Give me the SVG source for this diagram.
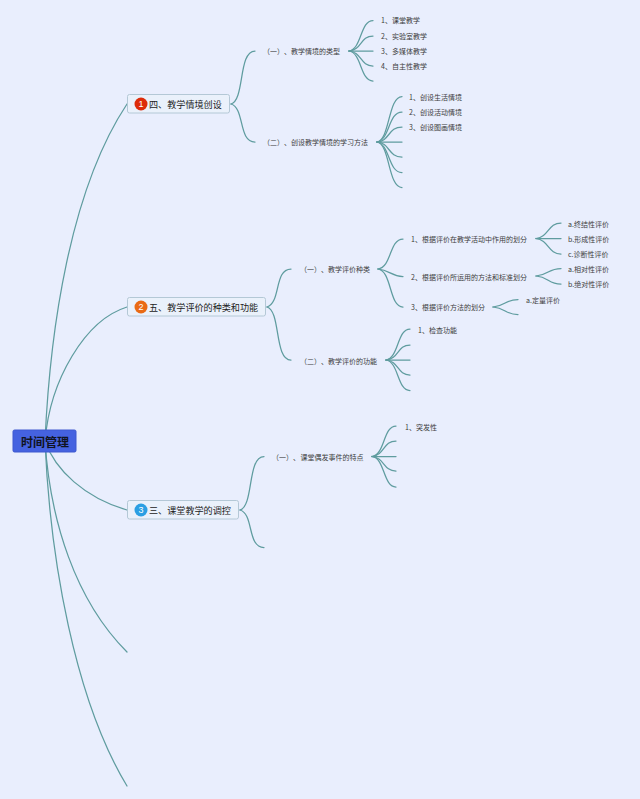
<svg xmlns="http://www.w3.org/2000/svg" width="640" height="799" viewBox="0 0 640 799">
<style>
text{font-family:"Noto Sans CJK SC","Liberation Sans",sans-serif;dominant-baseline:central}
.c path{fill:none;stroke:#5f9c9f;stroke-width:1.25;stroke-linecap:round}
.box{fill:#eaf1fb;stroke:#b4c8d6;stroke-width:1}
.t1{font-size:9.1px;fill:#222}
.t2{font-size:7px;fill:#3c3c3c}
.n{font-size:9px;fill:#fff;text-anchor:middle;font-family:"Liberation Sans",sans-serif}
</style>
<rect id="background" width="640" height="799" fill="#e9eefd"/>
<g id="connectors" class="c">
<path d="M45 441C50 330 70 190 127 104"/>
<path d="M45 441C50 380 85 320 127 307"/>
<path d="M45 441C55 470 85 498 127 510"/>
<path d="M45 441C50 520 75 600 127 652"/>
<path d="M45 441C50 560 75 700 127 786"/>
<path d="M231 104C245 100 238 51 255 51"/>
<path d="M231 104C245 108 238 142 255 142"/>
<path d="M349 51C362 49 360 20.500 373 20.500"/>
<path d="M349 51C362 50 360 36 373 36"/>
<path d="M349 51H373"/>
<path d="M349 51C362 52 360 66 373 66"/>
<path d="M349 51C362 53 360 81 373 81"/>
<path d="M377 142C390 140 388 96.500 402 96.500"/>
<path d="M377 142C390 140 388 112 402 112"/>
<path d="M377 142C390 141 388 127 402 127"/>
<path d="M377 142H402"/>
<path d="M377 142C390 143 388 157 402 157"/>
<path d="M377 142C390 144 388 172.500 402 172.500"/>
<path d="M377 142C390 144 388 187.500 402 187.500"/>
<path d="M267 307C281 303 274 269 291 269"/>
<path d="M267 307C281 311 274 360 291 360"/>
<path d="M378 269C392 267 389 239 403 239"/>
<path d="M378 269C390 270 391 276.500 403 276.500"/>
<path d="M378 269C392 271 389 307 403 307"/>
<path d="M536 238.500C549 237 548 223 561 223"/>
<path d="M536 238.500H561"/>
<path d="M536 238.500C549 240 548 254 561 254"/>
<path d="M536 276C549 275 548 268.500 561 268.500"/>
<path d="M536 276C549 277 548 284 561 284"/>
<path d="M493 307C506 306 505 299.500 518 299.500"/>
<path d="M493 307C506 308 505 314.500 518 314.500"/>
<path d="M386 360C399 358 397 329 410 329"/>
<path d="M386 360C399 359 397 345 410 345"/>
<path d="M386 360H410"/>
<path d="M386 360C399 361 397 375 410 375"/>
<path d="M386 360C399 362 397 390.500 410 390.500"/>
<path d="M240 510C254 506 247 456.500 264 456.500"/>
<path d="M240 510C254 514 247 547.500 264 547.500"/>
<path d="M372 456.500C385 455 383 426 396 426"/>
<path d="M372 456.500C385 455 383 441 396 441"/>
<path d="M372 456.500H396"/>
<path d="M372 456.500C385 458 383 471 396 471"/>
<path d="M372 456.500C385 458 383 487 396 487"/>
</g>
<g id="root"><rect x="13" y="430" width="63" height="22" rx="1.500" fill="#4562e0" stroke="#3f59cf"/><text x="21" y="441" font-size="12" font-weight="700" fill="#10131f">时间管理</text></g>
<g id="node-1"><rect class="box" x="127.500" y="94.500" width="102" height="18.500" rx="2"/><circle cx="141" cy="104" r="6.500" fill="#dd2c0a"/><text class="n" x="141" y="104">1</text><text class="t1" x="149" y="103.700">四、教学情境创设</text></g>
<g id="node-2"><rect class="box" x="127.500" y="297.500" width="138" height="18.500" rx="2"/><circle cx="141" cy="307" r="6.500" fill="#e96a14"/><text class="n" x="141" y="307">2</text><text class="t1" x="149" y="306.700">五、教学评价的种类和功能</text></g>
<g id="node-3"><rect class="box" x="127.500" y="500.500" width="111" height="18.500" rx="2"/><circle cx="141" cy="510" r="6.500" fill="#2b9fe3"/><text class="n" x="141" y="510">3</text><text class="t1" x="149" y="509.700">三、课堂教学的调控</text></g>
<g id="s1"><text class="t2" x="263" y="50.500">（一）<tspan x="284">、</tspan><tspan x="291">教学情境的类型</tspan></text></g>
<g id="s1-1"><text class="t2" x="381" y="20">1、课堂教学</text></g>
<g id="s1-2"><text class="t2" x="381" y="35.500">2、实验室教学</text></g>
<g id="s1-3"><text class="t2" x="381" y="50.500">3、多媒体教学</text></g>
<g id="s1-4"><text class="t2" x="381" y="65.500">4、自主性教学</text></g>
<g id="s2"><text class="t2" x="263" y="142">（二）<tspan x="284">、</tspan><tspan x="291">创设教学情境的学习方法</tspan></text></g>
<g id="s2-1"><text class="t2" x="409" y="96.500">1、创设生活情境</text></g>
<g id="s2-2"><text class="t2" x="409" y="111.500">2、创设活动情境</text></g>
<g id="s2-3"><text class="t2" x="409" y="127">3、创设图画情境</text></g>
<g id="s3"><text class="t2" x="300" y="268.500">（一）<tspan x="321">、</tspan><tspan x="328">教学评价种类</tspan></text></g>
<g id="s3-1"><text class="t2" x="411" y="238.500">1、根据评价在教学活动中作用的划分</text></g>
<g id="s3-2"><text class="t2" x="411" y="276.500">2、根据评价所运用的方法和标准划分</text></g>
<g id="s3-3"><text class="t2" x="411" y="307">3、根据评价方法的划分</text></g>
<g id="s3-1a"><text class="t2" x="568" y="223.500">a.终结性评价</text></g>
<g id="s3-1b"><text class="t2" x="568" y="238.500">b.形成性评价</text></g>
<g id="s3-1c"><text class="t2" x="568" y="254">c.诊断性评价</text></g>
<g id="s3-2a"><text class="t2" x="568" y="269">a.相对性评价</text></g>
<g id="s3-2b"><text class="t2" x="568" y="284">b.绝对性评价</text></g>
<g id="s3-3a"><text class="t2" x="526" y="299.500">a.定量评价</text></g>
<g id="s4"><text class="t2" x="300" y="360.500">（二）<tspan x="321">、</tspan><tspan x="328">教学评价的功能</tspan></text></g>
<g id="s4-1"><text class="t2" x="418" y="330">1、检查功能</text></g>
<g id="s5"><text class="t2" x="272" y="456.500">（一）<tspan x="293">、</tspan><tspan x="300.500">课堂偶发事件的特点</tspan></text></g>
<g id="s5-1"><text class="t2" x="405" y="426.500">1、突发性</text></g>
</svg>
